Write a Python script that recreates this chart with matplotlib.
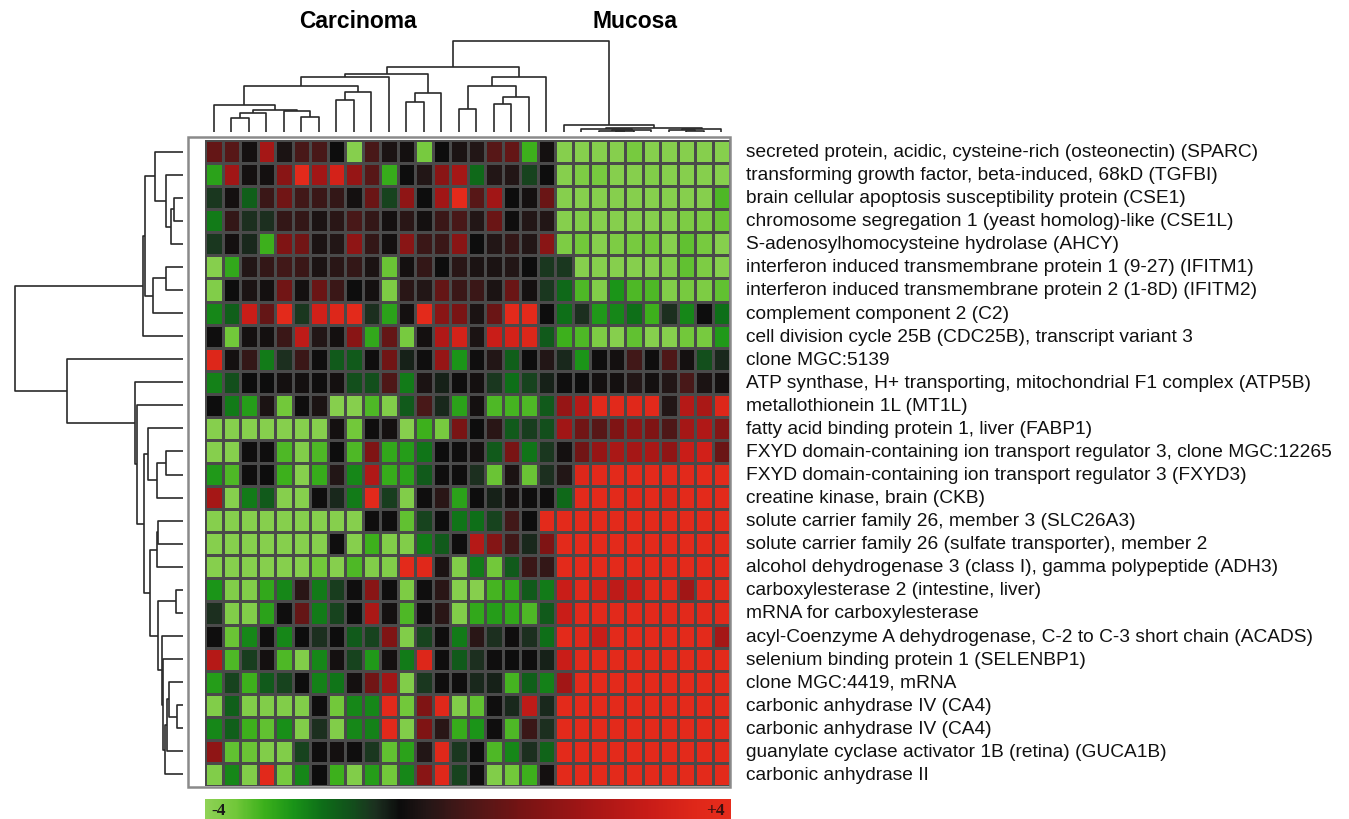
import numpy as np
import matplotlib
matplotlib.use("Agg")
import matplotlib.pyplot as plt
from matplotlib.colors import LinearSegmentedColormap
from matplotlib.patches import Rectangle

# gene labels, top to bottom
genes = [
    "secreted protein, acidic, cysteine-rich (osteonectin) (SPARC)",
    "transforming growth factor, beta-induced, 68kD (TGFBI)",
    "brain cellular apoptosis susceptibility protein (CSE1)",
    "chromosome segregation 1 (yeast homolog)-like (CSE1L)",
    "S-adenosylhomocysteine hydrolase (AHCY)",
    "interferon induced transmembrane protein 1 (9-27) (IFITM1)",
    "interferon induced transmembrane protein 2 (1-8D) (IFITM2)",
    "complement component 2 (C2)",
    "cell division cycle 25B (CDC25B), transcript variant 3",
    "clone MGC:5139",
    "ATP synthase, H+ transporting, mitochondrial F1 complex (ATP5B)",
    "metallothionein 1L (MT1L)",
    "fatty acid binding protein 1, liver (FABP1)",
    "FXYD domain-containing ion transport regulator 3, clone MGC:12265",
    "FXYD domain-containing ion transport regulator 3 (FXYD3)",
    "creatine kinase, brain (CKB)",
    "solute carrier family 26, member 3 (SLC26A3)",
    "solute carrier family 26 (sulfate transporter), member 2",
    "alcohol dehydrogenase 3 (class I), gamma polypeptide (ADH3)",
    "carboxylesterase 2 (intestine, liver)",
    "mRNA for carboxylesterase",
    "acyl-Coenzyme A dehydrogenase, C-2 to C-3 short chain (ACADS)",
    "selenium binding protein 1 (SELENBP1)",
    "clone MGC:4419, mRNA",
    "carbonic anhydrase IV (CA4)",
    "carbonic anhydrase IV (CA4)",
    "guanylate cyclase activator 1B (retina) (GUCA1B)",
    "carbonic anhydrase II",
]

groups = ["Carcinoma", "Mucosa"]

# expression (log ratio), 20 carcinoma + 10 mucosa samples per gene
expr = [
    [1.2, 1.0, 0.1, 2.3, 0.2, 0.8, 0.8, 0.0, -3.8, 0.8, 0.2, 0.1, -3.5, 0.0, 0.2, 0.3, 1.0, 1.2, -2.8, 0.1,
     -3.8, -3.8, -3.8, -3.8, -3.5, -3.8, -3.8, -3.8, -3.8, -3.8],
    [-2.5, 2.2, 0.1, 0.1, 1.8, 3.8, 2.2, 3.3, 2.0, 1.0, -2.7, 0.0, 0.3, 1.8, 2.3, -1.5, 0.3, 0.3, -0.8, 0.0,
     -3.8, -3.6, -3.5, -3.8, -3.8, -3.7, -3.8, -3.8, -3.8, -3.8],
    [-0.6, 0.1, -1.3, 0.6, 1.4, 0.7, 0.6, 0.5, 0.1, 1.3, -0.8, 1.9, 0.0, 2.2, 3.8, 1.0, 2.2, 0.0, 0.1, 1.3,
     -3.8, -3.8, -3.8, -3.8, -3.8, -3.8, -3.8, -3.8, -3.8, -3.0],
    [-1.8, 0.5, -0.5, -0.5, 0.5, 0.5, 0.2, 0.4, 0.8, 0.5, 0.1, 0.4, 0.1, 0.6, 0.8, 0.3, 1.3, 0.05, 0.3, 0.3,
     -3.8, -3.7, -3.8, -3.8, -3.8, -3.8, -3.8, -3.6, -3.6, -3.3],
    [-0.6, 0.1, -0.4, -2.8, 1.6, 1.4, 0.2, 0.3, 1.9, 0.5, 0.1, 1.8, 0.6, 0.6, 1.8, 0.0, 0.3, 0.5, 0.3, 1.8,
     -3.6, -3.4, -3.8, -3.6, -3.5, -3.4, -3.8, -3.2, -3.5, -3.8],
    [-3.8, -2.6, 0.3, 0.5, 0.7, 0.6, 0.2, 0.4, 0.5, 0.2, -3.3, 0.1, 0.5, 0.0, 0.4, 0.2, 0.2, 0.3, 0.0, -0.6,
     -0.6, -3.8, -3.8, -3.8, -3.8, -3.8, -3.7, -3.2, -3.6, -3.8],
    [-3.7, 0.0, 0.2, 0.1, 1.4, 0.1, 1.3, 0.6, 0.0, 0.1, -3.6, 0.4, 0.3, 1.2, 0.6, 0.6, 0.2, 1.3, 0.1, -0.6,
     -1.5, -3.0, -3.7, -2.2, -3.0, -3.0, -3.7, -3.5, -3.6, -3.2],
    [-2.0, -1.3, 3.0, 1.2, 3.8, -0.6, 3.2, 3.5, 3.8, -0.5, -2.5, 0.1, 3.8, 1.8, 1.5, 0.2, 1.3, 3.8, 3.8, 0.0,
     -1.6, -0.5, -2.3, -2.0, -1.6, -2.8, -0.5, -2.0, 0.0, -1.6],
    [0.05, -3.4, 0.1, 0.1, 0.6, 2.8, 0.3, 0.1, 1.8, -2.6, 1.2, -3.5, 0.1, 2.5, 3.3, 0.2, 3.0, 3.3, 3.5, -1.2,
     -2.8, -3.0, -3.6, -3.8, -3.2, -3.8, -3.8, -3.4, -3.5, -2.3],
    [3.5, 0.1, 0.5, -1.8, -0.5, 0.6, 0.05, -1.2, -1.2, 0.05, 1.4, -0.3, 0.05, 2.0, -2.2, 0.05, 0.3, -1.3, 0.0, 0.3,
     -0.4, -2.2, 0.05, 0.1, 0.7, 0.05, 0.9, 0.1, -1.0, -0.4],
    [-1.9, -1.0, 0.0, 0.0, 0.1, 0.1, 0.05, 0.1, -1.0, -1.0, 0.9, -1.8, 0.2, -0.3, 0.05, 0.1, -0.6, -1.6, -0.8, -0.3,
     0.05, 0.0, 0.1, 0.1, 0.3, 0.1, 0.3, 0.8, 0.2, 0.1],
    [0.0, -1.8, -2.4, 0.2, -3.4, 0.05, 0.2, -3.8, -3.8, -3.0, -3.7, -1.2, 0.8, -0.4, -2.5, 0.1, -3.0, -2.9, -3.0, -1.2,
     2.0, 2.6, 3.7, 3.7, 3.6, 3.7, 0.3, 2.6, 2.4, 3.5],
    [-3.8, -3.8, -3.8, -3.8, -3.8, -3.8, -3.8, 0.1, -3.4, 0.05, 0.1, -3.8, -2.8, -3.5, 1.5, 0.0, 0.4, -1.2, -0.7, -1.0,
     2.2, 1.4, 1.0, 1.6, 1.9, 1.6, 0.9, 2.3, 2.5, 1.7],
    [-3.8, -3.8, 0.05, 0.05, -3.0, -3.7, -3.0, 0.0, -3.0, 1.6, -2.6, -2.4, -1.7, 0.0, 0.05, 0.1, -1.2, 1.5, -1.7, -0.6,
     0.1, 1.4, 2.0, 2.4, 2.3, 2.4, 1.9, 3.0, 3.2, 1.3],
    [-2.3, -3.0, 0.05, 0.0, -2.8, -3.8, -2.7, 0.3, -2.0, 2.5, -2.7, -2.5, -1.2, 0.05, 0.05, -0.5, -3.3, 0.2, -3.3, -0.5,
     0.3, 3.5, 3.7, 3.8, 3.8, 3.8, 3.7, 3.7, 3.8, 3.8],
    [2.3, -3.8, -1.8, -1.2, -3.8, -3.8, 0.05, -0.4, -1.8, 3.7, -0.7, -3.7, 0.05, 0.4, -2.5, 0.0, -0.3, 0.1, 0.05, 0.05,
     -1.5, 3.8, 3.8, 3.8, 3.6, 3.8, 3.5, 3.8, 3.8, 3.8],
    [-3.8, -3.8, -3.8, -3.8, -3.8, -3.8, -3.8, -3.8, -3.8, 0.05, 0.05, -3.2, -0.8, 0.0, -1.7, -1.6, -0.8, 0.7, 0.0, 3.8,
     3.8, 3.8, 3.8, 3.8, 3.8, 3.8, 3.8, 3.8, 3.8, 3.8],
    [-3.8, -3.8, -3.8, -3.8, -3.8, -3.8, -3.8, 0.05, -3.8, -2.8, -3.7, -3.7, -1.8, -1.2, 0.05, 2.6, 1.7, 0.7, -0.4, 1.6,
     3.8, 3.8, 3.8, 3.8, 3.8, 3.8, 3.8, 3.8, 3.8, 3.8],
    [-3.8, -3.8, -3.8, -3.8, -3.8, -3.8, -3.4, -3.8, -3.0, -3.7, -3.7, 3.8, 3.6, 0.2, -3.7, -1.8, -3.4, -1.2, 0.6, 0.5,
     3.8, 3.8, 3.8, 3.8, 3.8, 3.8, 3.8, 3.8, 3.8, 3.8],
    [-2.2, -3.7, -3.7, -2.6, -2.0, 0.4, -1.8, -0.7, 0.05, 1.8, 0.05, -3.6, 0.05, 0.4, -3.8, -3.8, -2.9, -2.6, -1.2, -1.8,
     3.0, 3.7, 3.3, 2.8, 3.0, 3.8, 3.7, 2.2, 3.7, 3.8],
    [-0.5, -3.7, -3.7, -2.5, 0.05, 1.2, -1.8, -0.8, 0.0, 2.4, 0.1, -3.0, 0.05, 0.4, -3.7, -2.6, -2.4, -2.6, -3.0, -1.2,
     3.0, 3.7, 3.7, 3.7, 3.7, 3.7, 3.7, 3.7, 3.7, 3.7],
    [0.05, -3.3, -2.0, 0.05, -2.0, 0.0, -0.5, 0.0, -1.2, -0.8, 1.6, -3.7, -0.8, 0.05, -1.8, 0.4, -0.5, 0.05, -0.5, -1.6,
     3.8, 3.6, 3.0, 3.8, 3.8, 3.8, 3.8, 3.8, 3.8, 2.3],
    [2.6, -3.0, -0.7, 0.1, -3.0, -3.7, -2.0, 0.1, -0.8, -2.3, 0.1, -1.8, 3.5, 0.05, -1.2, -0.5, 0.05, 0.0, 0.05, -0.3,
     3.0, 3.8, 3.8, 3.8, 3.8, 3.8, 3.8, 3.8, 3.8, 3.8],
    [-2.4, -0.8, -2.8, -1.2, -0.8, 0.0, -1.9, -1.7, 0.1, 1.4, 2.2, -3.7, -0.6, 0.05, 0.05, -0.4, -0.3, -2.9, -1.3, -1.9,
     2.2, 3.8, 3.8, 3.8, 3.8, 3.8, 3.8, 3.8, 3.8, 3.8],
    [-3.7, -1.3, -3.7, -3.7, -3.7, -3.7, 0.05, -3.4, -2.0, -2.0, 3.7, -3.4, 1.6, 3.6, -3.7, -3.2, 0.05, -0.4, 2.8, -0.4,
     3.8, 3.8, 3.8, 3.8, 3.8, 3.8, 3.8, 3.8, 3.8, 3.8],
    [-2.0, -1.3, -2.8, -3.2, -2.1, -3.7, -0.5, -3.7, -2.0, -1.9, 3.7, -3.7, 1.6, 0.4, -2.7, -2.2, 0.05, -3.0, 0.6, -0.5,
     3.8, 3.8, 3.8, 3.8, 3.8, 3.8, 3.8, 3.8, 3.8, 3.8],
    [1.9, -3.2, -3.3, -3.7, -3.7, -0.8, 0.05, 0.1, 0.05, -0.6, -3.2, -2.5, 0.3, 3.6, -0.6, 0.0, -3.0, -2.0, -0.5, -1.4,
     3.8, 3.8, 3.8, 3.8, 3.8, 3.8, 3.8, 3.8, 3.8, 3.8],
    [-3.7, -2.0, -3.7, 3.7, -3.5, -2.0, 0.0, -2.8, -3.7, -2.4, -3.4, -2.0, 1.8, 3.6, -0.8, 0.05, -3.7, -3.4, -2.8, 0.1,
     3.8, 3.8, 3.8, 3.8, 3.8, 3.8, 3.8, 3.8, 3.8, 3.8],
]

# sample tree: (child a, child b, height); leaves 0-29, new nodes from 30
col_tree = [
    (1, 2, 14.3), (30, 3, 19), (5, 6, 15), (4, 32, 21), (31, 33, 22.3),
    (0, 34, 26.7), (7, 8, 31.7), (36, 9, 40), (35, 37, 46), (38, 10, 55),
    (11, 12, 30), (40, 13, 39), (39, 41, 57.7), (14, 15, 23), (16, 17, 28.3),
    (44, 18, 35), (43, 45, 46), (46, 19, 55), (42, 47, 65),
    (23, 24, 1.0), (22, 49, 1.3), (50, 25, 1.7), (21, 51, 2.7), (27, 28, 1.3),
    (26, 53, 2.3), (54, 29, 3.3), (52, 55, 3.7), (20, 56, 6.7), (48, 57, 91),
]

# gene tree: leaves 0-27, new nodes from 28
row_tree = [
    (2, 3, 8.7), (28, 4, 12.3), (1, 29, 16.7), (0, 30, 28.3), (5, 6, 16.7),
    (32, 7, 29.7), (31, 33, 38.3), (34, 8, 39.7),
    (13, 14, 17), (36, 15, 26), (12, 37, 35), (16, 17, 25.5), (39, 18, 26.3),
    (19, 20, 7.3), (24, 25, 6.3), (23, 42, 14), (43, 26, 16), (44, 27, 18),
    (22, 45, 20), (21, 46, 21.3), (41, 47, 24.7), (40, 48, 33), (38, 49, 39),
    (11, 50, 46.3), (10, 51, 48), (9, 52, 116), (35, 53, 168),
]

W, H = 1349, 820


def box(l, t, r, b):
    return [l / W, 1 - b / H, (r - l) / W, (b - t) / H]


def tree_lines(tree, n):
    pos = list(np.arange(n) + 0.5)
    hgt = [0.0] * n
    out = []
    for a, b, h in tree:
        out.append(([pos[a], pos[a], pos[b], pos[b]], [hgt[a], h, h, hgt[b]]))
        pos.append((pos[a] + pos[b]) / 2)
        hgt.append(h)
    return out


cmap = LinearSegmentedColormap.from_list("gr", [
    (0.0, "#8fd256"), (0.075, "#72c83a"), (0.15, "#3cb01c"), (0.225, "#1a9418"),
    (0.3, "#0e6e18"), (0.375, "#13501c"), (0.4375, "#1c3020"), (0.5, "#0c0c0c"),
    (0.5375, "#221616"), (0.6, "#481818"), (0.6875, "#781414"), (0.775, "#a01616"),
    (0.875, "#c81c18"), (0.95, "#e0281a"), (1.0, "#e62c1c"),
])

fig = plt.figure(figsize=(W / 100, H / 100), dpi=100)

data = np.array(expr)
nr, nc = data.shape

# heatmap
ax = fig.add_axes(box(205, 141, 730, 787))
ax.pcolormesh(np.arange(nc + 1), np.arange(nr + 1), data, cmap=cmap, vmin=-4, vmax=4,
              edgecolors="#4a4a4a", linewidth=0.8)
ax.set_xlim(0, nc)
ax.set_ylim(nr, 0)
ax.axis("off")
for i, g in enumerate(genes):
    ax.text(nc + 0.9, i + 0.5, g, va="center", ha="left", fontsize=13.8,
            family="Liberation Sans", color="#111111")

# frame around heatmap
fig.add_artist(Rectangle((188 / W, 1 - 788 / H), (730 - 188) / W, (788 - 138) / H,
                         transform=fig.transFigure, fill=False, ec="#8a8a8a", lw=1.8))

# top dendrogram
axt = fig.add_axes(box(205, 30, 730, 133))
for xs, ys in tree_lines(col_tree, nc):
    axt.plot(xs, ys, color="#2a2a2a", lw=1.2, solid_capstyle="butt")
axt.set_xlim(0, nc)
axt.set_ylim(0, 103)
axt.axis("off")

# left dendrogram
axl = fig.add_axes(box(10, 141, 183, 787))
for ys, xs in tree_lines(row_tree, nr):
    axl.plot(xs, ys, color="#2a2a2a", lw=1.2, solid_capstyle="butt")
axl.set_xlim(173, 0)
axl.set_ylim(nr, 0)
axl.axis("off")

# group titles
fig.text(358 / W, 1 - 22 / H, groups[0], ha="center", va="center", fontsize=16.5,
         fontweight="bold", family="Liberation Sans")
fig.text(635 / W, 1 - 22 / H, groups[1], ha="center", va="center", fontsize=16.5,
         fontweight="bold", family="Liberation Sans")

# colour key (black sits a bit left of centre in the original key)
axc = fig.add_axes(box(205, 800, 731, 820))
key = np.interp(np.linspace(0, 1, 400), [0, 0.37, 1], [-4, 0, 4])
axc.imshow(key[None, :], aspect="auto", cmap=cmap, vmin=-4, vmax=4, extent=(0, 1, 0, 1))
axc.axis("off")
axc.text(0.012, 0.45, "-4", ha="left", va="center", fontsize=12.5, fontweight="bold",
         family="Liberation Serif", color="#1a1a1a")
axc.text(0.988, 0.45, "+4", ha="right", va="center", fontsize=12.5, fontweight="bold",
         family="Liberation Serif", color="#3a1010")

fig.savefig("out.png", dpi=100)
